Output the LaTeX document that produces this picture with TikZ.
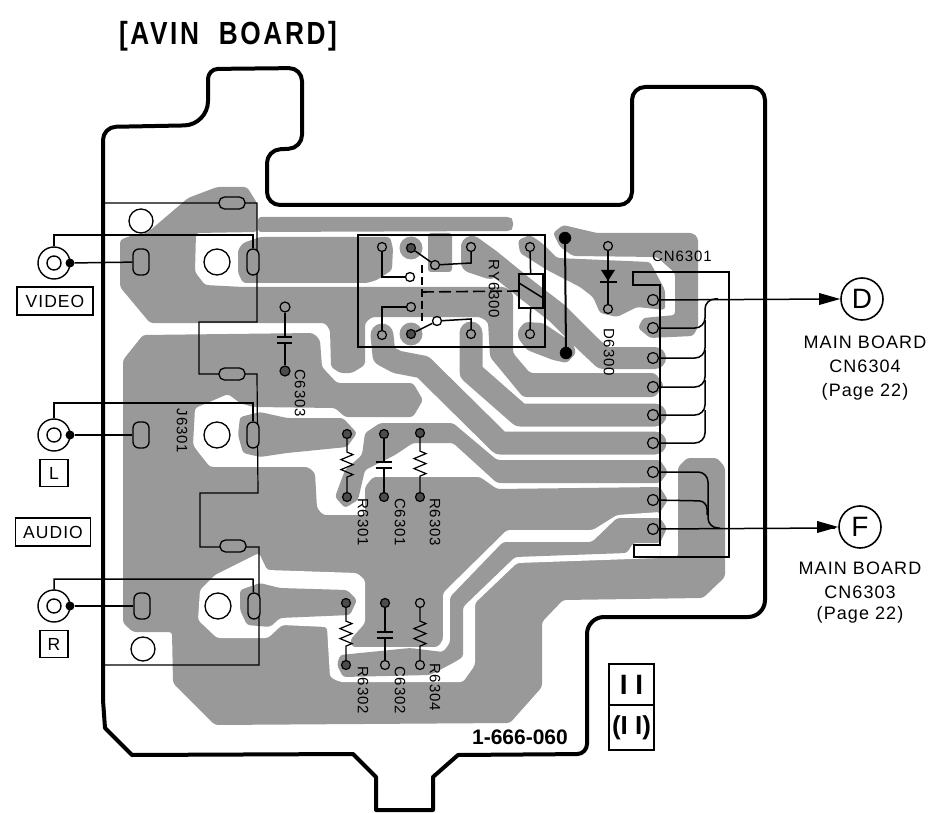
\documentclass[tikz,border=0pt]{standalone}
\usepackage{fontspec}
\setmainfont{Liberation Sans}
\newfontfamily\lblfont[LetterSpace=6]{Liberation Sans}
\newfontfamily\ttlfont[LetterSpace=10]{Liberation Sans}
\usetikzlibrary{decorations.pathmorphing,arrows.meta}
\definecolor{copper}{gray}{0.60}
\tikzset{
  cu/.style={fill=copper,draw=none,rounded corners=3pt},
  gap/.style={fill=white,draw=none,rounded corners=3pt},
  trace/.style={draw=copper,line width=23pt,line cap=round,line join=round},
  frameline/.style={draw=black,line width=1.2pt},
  wire/.style={draw=black,line width=1.5pt},
  padn/.style={circle,draw=black,line width=1.2pt,fill=copper,inner sep=0pt,minimum size=9pt},
  blackpad/.style={padn,fill=black!70},
  darkpad/.style={circle,draw=black,fill=black,inner sep=0pt,minimum size=12pt},
  openpad/.style={circle,draw=black,line width=1.3pt,fill=white,inner sep=0pt,minimum size=9pt},
  hole/.style={circle,draw=black,line width=1.3pt,fill=white,inner sep=0pt,minimum size=26pt},
  ovalv/.style={rectangle,draw=black,line width=1.3pt,fill=copper,rounded corners=6pt,inner sep=0pt,minimum width=14pt,minimum height=26pt},
  ovalh/.style={rectangle,draw=black,line width=1.3pt,fill=copper,rounded corners=5.5pt,inner sep=0pt,minimum width=26pt,minimum height=12pt},
  cnpin/.style={circle,draw=black,line width=1.2pt,fill=copper,inner sep=0pt,minimum size=11pt},
  lab/.style={font=\lblfont\fontsize{15}{15}\selectfont,rotate=-90,inner sep=0pt},
  boxl/.style={draw=black,line width=1.3pt,fill=white,inner sep=0pt,font=\lblfont\fontsize{17.5}{17.5}\selectfont},
  conn/.style={circle,draw=black,line width=1.6pt,fill=white,inner sep=0pt,minimum size=42pt,font=\fontsize{28}{28}\selectfont},
  side/.style={font=\lblfont\fontsize{18}{18}\selectfont,inner sep=0pt},
  res/.style={draw=black,line width=1.2pt,decorate,decoration={zigzag,segment length=10pt,amplitude=6pt,pre length=13pt,post length=13pt}}
}
\begin{document}
\begin{tikzpicture}[x=1pt,y=-1pt]
\useasboundingbox (0,0) rectangle (935,813);
% ---------- copper ----------
\fill[cu] (123,360)--(143,335)--(313,333)--(320,340)--(322,367)--(337,383)--(413,383)--(423,400)--(413,417)--(345,417)--(335,408)--(253,407)--(240,403)--(228,394)--(207,403)--(195,408)--(193,445)--(198,452)--(210,467)--(308,467)--(315,473)--(317,508)--(323,515)--(365,515)--(365,487)--(373,477)--(480,477)--(497,489)--(660,487)--(668,500)--(660,512)--(660,558)--(678,557)--(678,467)--(687,458)--(717,458)--(725,467)--(725,577)--(703,598)--(563,600)--(542,622)--(542,687)--(510,723)--(215,725)--(173,683)--(172,632)--(133,632)--(123,623)--cycle;
\fill[gap] (660,512)--(617,515)--(593,530)--(507,530)--(443,593)--(443,640)--(438,647)--(352,647)--(350,640)--(365,623)--(365,580)--(357,573)--(267,570)--(259,553)--(215,575)--(200,590)--(198,620)--(217,638)--(268,638)--(282,625)--(327,627)--(330,677)--(340,682)--(463,682)--(475,665)--(475,603)--(517,563)--(660,558)--cycle;
\fill[cu] (120,240)--(130,236)--(147,233)--(188,198)--(217,187)--(247,187)--(257,203)--(257,232)--(196,233)--(195,272)--(205,285)--(243,287)--(505,287)--(513,293)--(513,353)--(530,373)--(655,373)--(664,385)--(655,397)--(523,397)--(490,357)--(488,322)--(480,317)--(372,317)--(365,323)--(365,365)--(352,373)--(340,373)--(331,367)--(330,330)--(325,323)--(150,323)--(120,287)--cycle;
\fill[cu] (258,217)--(510,217)--(513,220)--(513,228)--(510,231)--(258,232)--cycle;
\fill[cu] (243,243)--(260,237)--(390,237)--(393,248)--(392,270)--(377,280)--(367,283)--(243,283)--(238,273)--(238,250)--cycle;
\fill[cu] (428,233)--(452,233)--(452,272)--(428,272)--cycle;
\fill[copper] (411,248) circle (11.5) (411,334) circle (11.5);
\draw[trace,line width=22pt] (472,247)--(490,260)--(527,290)--(557,313)--(587,343)--(603,358)--(655,358);
\draw[trace,line width=22pt] (472,247)--(472,262)--(490,268);
\fill[cu] (518,240)--(530,235)--(542,243)--(557,258)--(650,262)--(665,290)--(665,310)--(637,307)--(617,317)--(600,313)--(593,297)--(580,287)--(547,270)--(520,253)--cycle;
\fill[cu] (518,330)--(525,322)--(543,323)--(573,343)--(576,353)--(567,363)--(553,360)--(527,350)--(518,338)--cycle;
\fill[cu] (553,233)--(563,225)--(597,233)--(693,233)--(698,238)--(698,327)--(693,336)--(650,338)--(638,328)--(643,318)--(675,315)--(675,273)--(657,257)--(573,256)--(560,247)--cycle;
\draw[trace] (471,333)--(471,372)--(520,415)--(655,415);
\draw[trace] (382,335)--(384,355)--(397,362)--(423,367)--(500,443)--(655,443);
\fill[cu] (365,433)--(380,423)--(453,423)--(497,460)--(660,460)--(668,472)--(660,483)--(497,483)--(453,443)--(413,443)--(395,455)--(365,470)--(358,500)--(345,508)--(335,497)--(345,470)--(362,455)--cycle;
\fill[cu] (340,655)--(410,648)--(443,652)--(450,643)--(450,597)--(503,542)--(592,542)--(617,518)--(660,518)--(667,528)--(660,543)--(633,543)--(627,553)--(515,557)--(463,607)--(463,657)--(453,663)--(430,675)--(343,677)--(337,665)--cycle;
\fill[cu] (240,590)--(260,583)--(280,588)--(347,590)--(357,600)--(350,615)--(280,618)--(270,627)--(247,625)--(240,610)--cycle;
\fill[cu] (240,417)--(260,412)--(287,418)--(343,418)--(357,433)--(347,447)--(287,453)--(260,457)--(243,453)--(238,435)--cycle;
% ---------- board outline ----------
\draw[line width=4pt,line join=round]
 (127,750)--(105,728)--(103,700)
 [rounded corners=13pt]--(103,127)
 [rounded corners=24pt]--(208,125)
 [rounded corners=10pt]--(208,69)
 [rounded corners=13pt]--(302,68)
 --(302,148)
 [rounded corners=13pt]--(267,150)
 --(267,205)
 --(632,205)
 --(632,87)
 --(765,87)
 [rounded corners=17pt]--(765,617)
 --(587,617)
 [rounded corners=10pt]--(587,754)
 [sharp corners]--(458,755)--(433,777)--(433,810)--(376,810)--(376,777)--(353,754)--(132,755)--(127,750);
% ---------- jack frames ----------
\draw[frameline] (103,203)--(257,203)--(257,322)--(199,322)--(199,374)--(257,374)--(258,493)--(200,493)--(200,547)--(259,547)--(259,665)--(105,665);
% ---------- holes ----------
\node[hole,minimum size=24pt] (h1) at (141,221) {};
\node[hole] (h2) at (217,262) {};
\node[hole] (h3) at (217,435) {};
\node[hole] (h4) at (218,606) {};
\node[hole,minimum size=24pt] (h5) at (143,649) {};
% ---------- ovals ----------
\node[ovalh] (ot1) at (232,203) {};
\node[ovalh] (ot2) at (232,374) {};
\node[ovalh] (ot3) at (233,546) {};
\node[ovalv,minimum width=16pt] (v1) at (141,262) {};
\node[ovalv,minimum width=12pt] (w1) at (253,262) {};
\node[ovalv,minimum width=16pt] (v2) at (141,435) {};
\node[ovalv,minimum width=12pt] (w2) at (253,435) {};
\node[ovalv,minimum width=16pt] (v3) at (142,606) {};
\node[ovalv,minimum width=12pt] (w3) at (254,606) {};
% ---------- jacks ----------
\foreach \n/\y/\vv/\ww/\topy in {a/263/v1/w1/235,b/435/v2/w2/403,c/606/v3/w3/579}{
  \node[circle,draw=black,line width=1.4pt,inner sep=0pt,minimum size=32pt] (j\n) at (54,\y) {};
  \node[circle,draw=black,line width=1.4pt,inner sep=0pt,minimum size=14pt] (k\n) at (54,\y) {};
  \node[circle,fill=black,inner sep=0pt,minimum size=9pt] (d\n) at (70,\y) {};
  \draw[wire] (d\n)--(\vv);
  \coordinate (t\n) at (54,\topy);
  \coordinate (u\n) at (253,\topy);
  \draw[wire] (j\n.north)--(t\n)--(u\n)--(\ww);
}
% ---------- relay ----------
\draw[frameline] (358,235) rectangle (545,347);
\node[padn] (r1) at (382,247) {};
\node[blackpad] (r2) at (411,248) {};
\node[padn] (r3) at (471,247) {};
\node[padn] (r4) at (530,247) {};
\node[padn] (r5) at (382,335) {};
\node[blackpad] (r6) at (411,334) {};
\node[padn] (r7) at (471,334) {};
\node[padn] (r8) at (530,334) {};
\node[openpad] (o1) at (410,277) {};
\node[padn] (o2) at (435,265) {};
\node[padn] (o3) at (411,307) {};
\node[openpad] (o4) at (437,321) {};
\coordinate (c1) at (382,277);
\coordinate (c2) at (471,263);
\coordinate (c3) at (382,307);
\coordinate (c4) at (471,319);
\draw[wire] (r1)--(c1)--(o1);
\draw[wire] (r2)--(o2)--(c2)--(r3);
\draw[wire] (r5)--(c3)--(o3);
\draw[wire] (r6)--(o4)--(c4)--(r7);
\node[rectangle,draw=black,line width=2.4pt,inner sep=0pt,minimum width=24pt,minimum height=34pt] (coil) at (531,291) {};
\draw[wire] (r4)--(coil);
\draw[wire] (coil)--(r8);
\draw[wire] (519,283)--(543,298);
\coordinate (dv1) at (422,265);
\coordinate (dv2) at (422,322);
\coordinate (dh1) at (422,292);
\draw[line width=1.6pt,dash pattern=on 8pt off 4pt] (dv1)--(dv2);
\draw[line width=1.6pt,dash pattern=on 12pt off 5pt] (dh1)--(coil.west);
% ---------- jumper ----------
\node[darkpad] (m1) at (565,238) {};
\node[darkpad] (m2) at (566,353) {};
\draw[line width=2pt] (m1)--(m2);
% ---------- diode ----------
\node[padn] (e1) at (608,246) {};
\node[padn] (e2) at (608,309) {};
\draw[wire] (e1)--(e2);
\fill (601,270)--(615,270)--(608,281)--cycle;
\draw[line width=1.6pt] (600,282)--(617,282);
% ---------- C6303 ----------
\node[padn,minimum size=10pt] (c63a) at (285,307) {};
\node[blackpad,minimum size=10pt] (c63b) at (285,371) {};
\draw[wire] (c63a)--(285,337) (285,343)--(c63b);
\draw[wire] (277,337)--(292,337) (277,343)--(292,343);
% ---------- resistors & caps ----------
\node[blackpad] (ra) at (347,434) {}; \node[blackpad] (rb) at (347,497) {};
\node[blackpad] (sa) at (384,434) {}; \node[blackpad] (sb) at (384,497) {};
\node[blackpad] (ta) at (420,433) {}; \node[blackpad] (tb) at (420,497) {};
\node[blackpad] (ua) at (346,603) {}; \node[blackpad] (ub) at (346,665) {};
\node[blackpad] (va) at (385,603) {}; \node[padn] (vb) at (385,665) {};
\node[padn] (xa) at (420,603) {}; \node[padn] (xb) at (420,665) {};
\draw[res] (ra)--(rb);
\draw[res] (ta)--(tb);
\draw[res] (ua)--(ub);
\draw[res] (xa)--(xb);
\draw[wire] (sa)--(384,462) (384,468)--(sb);
\draw[wire] (376,462)--(392,462) (376,468)--(392,468);
\draw[wire] (va)--(385,632) (385,638)--(vb);
\draw[wire] (377,632)--(393,632) (377,638)--(393,638);
% ---------- CN6301 ----------
\draw[frameline] (633,272)--(729,272)--(729,557)--(634,557)--(634,545)--(660,545)--(660,285)--(633,285)--cycle;
\foreach \i/\y in {1/300,2/328,3/358,4/387,5/415,6/443,7/472,8/500,9/529}{
  \node[cnpin] (p\i) at (653,\y) {};
}
% ---------- off-board ----------
\node[conn] (D) at (862,299) {D};
\node[conn] (F) at (860,527) {F};
\draw[wire] (p1)--(835,299);
\fill (D.west)--+(-21,-6)--+(-21,6)--cycle;
\draw[wire] (p9)--(835,528);
\fill (F.west)--+(-21,-6)--+(-21,6)--cycle;
\draw[wire,rounded corners=10pt] (p2)--(705,328)--(705,299)--(718,299);
\draw[wire,rounded corners=10pt] (p3)--(705,358)--(705,320);
\draw[wire,rounded corners=10pt] (p4)--(705,387)--(705,350);
\draw[wire,rounded corners=10pt] (p5)--(705,415)--(705,380);
\draw[wire,rounded corners=10pt] (p6)--(705,443)--(705,410);
\draw[wire,rounded corners=10pt] (p7)--(708,472)--(708,528)--(720,528);
\draw[wire,rounded corners=8pt] (p8)--(707,501)--(707,515);
% ---------- text ----------
\node[font=\ttlfont\bfseries\fontsize{32}{32}\selectfont,inner sep=0pt,xscale=.82] (title) at (228,36) {[AVIN\ \ BOARD]};
\node[lab] (t1) at (182,431) {J6301};
\node[lab] (t2) at (300,393) {C6303};
\node[lab] (t3) at (494,289) {RY6300};
\node[lab] (t4) at (609,352) {D6300};
\node[font=\lblfont\fontsize{15}{15}\selectfont,inner sep=0pt] (t5) at (682,256) {CN6301};
\node[lab] (t6) at (363,522) {R6301};
\node[lab] (t7) at (400,522) {C6301};
\node[lab] (t8) at (435,522) {R6303};
\node[lab] (t9) at (363,690) {R6302};
\node[lab] (t10) at (400,690) {C6302};
\node[lab] (t11) at (435,687) {R6304};
\node[boxl,minimum width=76pt,minimum height=28pt] (bv) at (55,301) {VIDEO};
\node[boxl,minimum width=28pt,minimum height=27pt] (bl) at (54,473) {L};
\node[boxl,minimum width=75pt,minimum height=28pt] (ba) at (53,532) {AUDIO};
\node[boxl,minimum width=28pt,minimum height=27pt] (br) at (54,644) {R};
\node[side] (s1) at (865,342) {MAIN BOARD};
\node[side] (s2) at (865,366) {CN6304};
\node[side] (s3) at (865,392) {(Page 22)};
\node[side] (s4) at (860,568) {MAIN BOARD};
\node[side] (s5) at (860,592) {CN6303};
\node[side] (s6) at (860,615) {(Page 22)};
\node[font=\bfseries\fontsize{21}{21}\selectfont,inner sep=0pt] (num) at (520,737) {1-666-060};
\node[draw=black,line width=1.8pt,inner sep=0pt,minimum width=45pt,minimum height=41pt,font=\bfseries\fontsize{28}{28}\selectfont] (b1) at (631.5,684.5) {I I};
\node[draw=black,line width=1.8pt,inner sep=0pt,minimum width=45pt,minimum height=45pt,font=\bfseries\fontsize{26}{26}\selectfont] (b2) at (631.5,727.5) {(I I)};
% Note: the reference's stippled copper is shown as flat gray.
\end{tikzpicture}
\end{document}
